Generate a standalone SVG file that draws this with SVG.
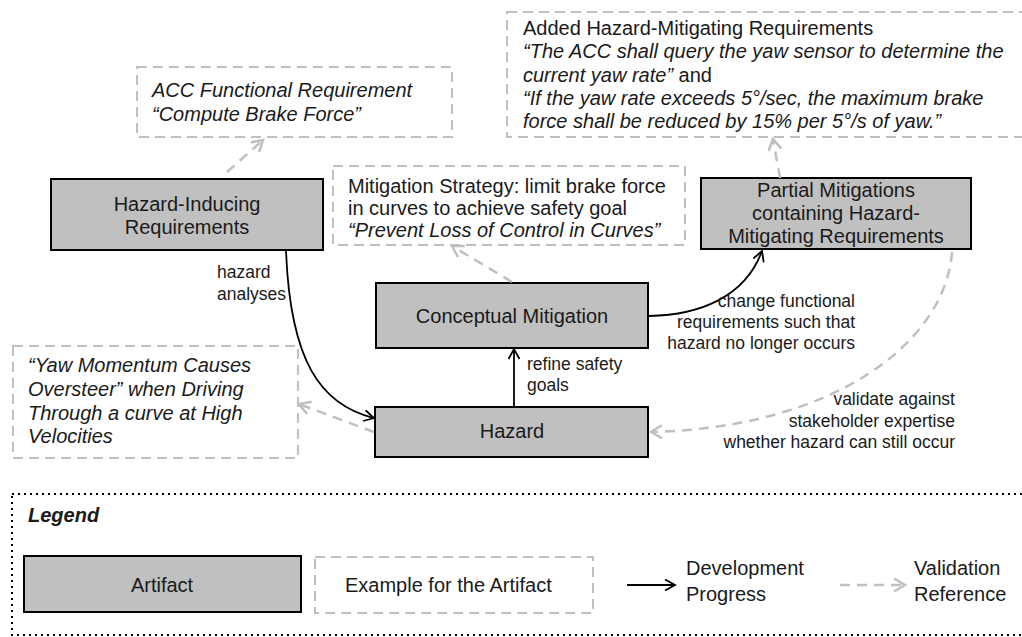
<svg xmlns="http://www.w3.org/2000/svg" width="1022" height="637" viewBox="0 0 1022 637">
  <style>
    text { font-family: "Liberation Sans", Arial, sans-serif; fill: #1a1a1a; }
    .box { fill: #c0c0c0; stroke: #000; stroke-width: 2; }
    .ex { fill: #fff; stroke: #c0c0c0; stroke-width: 2; stroke-dasharray: 10 6; }
    .t20 { font-size: 20px; }
    .t18 { font-size: 17.5px; }
    .mid { text-anchor: middle; }
    .end { text-anchor: end; }
    .it { font-style: italic; }
    .dev { fill: none; stroke: #000; stroke-width: 1.8; }
    .val { fill: none; stroke: #c0c0c0; stroke-width: 2.5; stroke-dasharray: 10 7; }
  </style>
  <defs>
    <marker id="arrowDev" markerUnits="userSpaceOnUse" markerWidth="14" markerHeight="14" refX="11" refY="6" orient="auto">
      <path d="M1,0.5 L11,6 L1,11.5" fill="none" stroke="#000" stroke-width="1.8"/>
    </marker>
    <marker id="arrowVal" markerUnits="userSpaceOnUse" markerWidth="16" markerHeight="16" refX="12" refY="7" orient="auto">
      <path d="M1,0.5 L12,7 L1,13.5" fill="none" stroke="#c0c0c0" stroke-width="2.5"/>
    </marker>
  </defs>

  <!-- example boxes -->
  <g id="ex-acc">
    <rect class="ex" x="137" y="67" width="315" height="70"/>
    <text class="t20 it" x="152" y="97">ACC Functional Requirement</text>
    <text class="t20 it" x="152" y="121">“Compute Brake Force”</text>
  </g>
  <g id="ex-strategy">
    <rect class="ex" x="333" y="166" width="352" height="79"/>
    <text class="t20" x="348" y="193">Mitigation Strategy: limit brake force</text>
    <text class="t20" x="348" y="215">in curves to achieve safety goal</text>
    <text class="t20 it" x="348" y="237">“Prevent Loss of Control in Curves”</text>
  </g>
  <g id="ex-added">
    <rect class="ex" x="507" y="12" width="516" height="125"/>
    <text class="t20" x="523" y="35">Added Hazard-Mitigating Requirements</text>
    <text class="t20 it" x="523" y="58">“The ACC shall query the yaw sensor to determine the</text>
    <text class="t20" x="523" y="82"><tspan class="it">current yaw rate”</tspan> and</text>
    <text class="t20 it" x="523" y="105">“If the yaw rate exceeds 5°/sec, the maximum brake</text>
    <text class="t20 it" x="523" y="128">force shall be reduced by 15% per 5°/s of yaw.”</text>
  </g>
  <g id="ex-yaw">
    <rect class="ex" x="13" y="346" width="285" height="112"/>
    <text class="t20 it" x="28" y="372">“Yaw Momentum Causes</text>
    <text class="t20 it" x="28" y="396">Oversteer” when Driving</text>
    <text class="t20 it" x="28" y="420">Through a curve at High</text>
    <text class="t20 it" x="28" y="443">Velocities</text>
  </g>

  <!-- artifacts -->
  <g id="hazard-inducing">
    <rect class="box" x="51" y="179" width="272" height="71"/>
    <text class="t20 mid" x="187" y="211">Hazard-Inducing</text>
    <text class="t20 mid" x="187" y="234">Requirements</text>
  </g>
  <g id="partial-mitigations">
    <rect class="box" x="701" y="178" width="270" height="71"/>
    <text class="t20 mid" x="836" y="197">Partial Mitigations</text>
    <text class="t20 mid" x="836" y="220">containing Hazard-</text>
    <text class="t20 mid" x="836" y="243">Mitigating Requirements</text>
  </g>
  <g id="conceptual-mitigation">
    <rect class="box" x="376" y="283" width="272" height="65"/>
    <text class="t20 mid" x="512" y="323">Conceptual Mitigation</text>
  </g>
  <g id="hazard">
    <rect class="box" x="375" y="407" width="273" height="50"/>
    <text class="t20 mid" x="512" y="438">Hazard</text>
  </g>

  <!-- connectors -->
  <g id="connectors">
    <path class="val" d="M227,172 L263,140" marker-end="url(#arrowVal)"/>
    <path class="val" d="M512,282 L452,246" marker-end="url(#arrowVal)"/>
    <path class="val" d="M780,178 L773,139" marker-end="url(#arrowVal)"/>
    <path class="val" d="M374,432 L299,404" marker-end="url(#arrowVal)"/>
    <path class="val" d="M952,252 C945,345 830,428 651,432" marker-end="url(#arrowVal)"/>
    <path class="dev" d="M286,250 C290,360 320,405 374,418" marker-end="url(#arrowDev)"/>
    <path class="dev" d="M514,407 L514,349" marker-end="url(#arrowDev)"/>
    <path class="dev" d="M649,316 C700,315 745,297 762,251" marker-end="url(#arrowDev)"/>
    <text class="t18" x="217" y="278">hazard</text>
    <text class="t18" x="217" y="300">analyses</text>
    <text class="t18" x="527" y="370">refine safety</text>
    <text class="t18" x="527" y="391">goals</text>
    <text class="t18 end" x="855" y="307">change functional</text>
    <text class="t18 end" x="855" y="328">requirements such that</text>
    <text class="t18 end" x="855" y="349">hazard no longer occurs</text>
    <text class="t18 end" x="955" y="405">validate against</text>
    <text class="t18 end" x="955" y="427">stakeholder expertise</text>
    <text class="t18 end" x="955" y="448">whether hazard can still occur</text>
  </g>

  <!-- legend -->
  <g id="legend">
    <rect x="12" y="494" width="1016" height="141" fill="none" stroke="#000" stroke-width="2" stroke-dasharray="2 4"/>
    <text class="t20" x="28" y="522" font-weight="bold" font-style="italic">Legend</text>
    <rect class="box" x="24" y="556" width="277" height="56"/>
    <text class="t20 mid" x="162" y="592">Artifact</text>
    <rect class="ex" x="315" y="557" width="278" height="56"/>
    <text class="t20" x="345" y="592">Example for the Artifact</text>
    <path class="dev" d="M627,585 L675,585" stroke-width="2.5" marker-end="url(#arrowDev)"/>
    <text class="t20" x="686" y="575">Development</text>
    <text class="t20" x="686" y="601">Progress</text>
    <path class="val" d="M840,585 L905,585" marker-end="url(#arrowVal)"/>
    <text class="t20" x="914" y="575">Validation</text>
    <text class="t20" x="914" y="601">Reference</text>
  </g>
</svg>
